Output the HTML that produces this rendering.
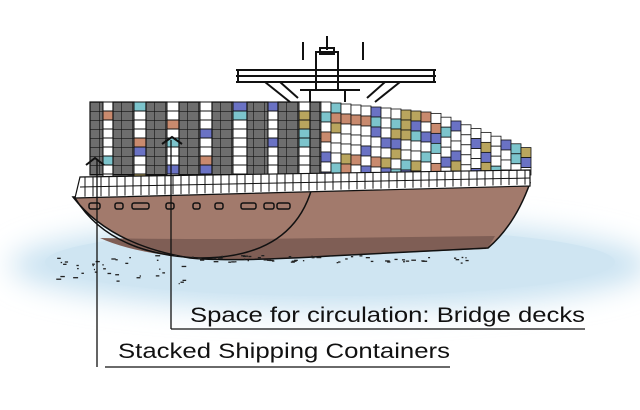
<!DOCTYPE html>
<html><head><meta charset="utf-8"><style>
html,body{margin:0;padding:0;background:#fff;width:640px;height:410px;overflow:hidden}
svg{display:block}
text{font-family:"Liberation Sans",sans-serif;fill:#111}
</style></head><body>
<svg id="s" width="640" height="410" viewBox="0 0 640 410" xmlns="http://www.w3.org/2000/svg">
<defs>
<filter id="b" x="-20%" y="-50%" width="140%" height="200%"><feGaussianBlur stdDeviation="14"/></filter>
<pattern id="g" x="0" y="102" width="11" height="9" patternUnits="userSpaceOnUse">
<rect width="11" height="9" fill="#6e6e6e"/><path d="M0 0H11M0 0V9" stroke="#111" stroke-width="1.2"/>
</pattern>
</defs>
<ellipse cx="330" cy="265" rx="320" ry="45" fill="#c9e2f1" filter="url(#b)"/>
<ellipse cx="330" cy="262" rx="285" ry="34" fill="#cfe5f2"/>
<!-- superstructure -->
<g stroke="#111" stroke-width="2" fill="none">
<path d="M327 36V50M303 42V60M363 42V60M316 52h22v38h-22zM320 48h14v6h-14z"/>
<path d="M236 70h200M236 76h200M236 82h200M238 70v12M434 70v12"/>
<path d="M265 82l25 20M280 82l18 16M400 82l-25 20M385 82l-18 16M310 90v12M345 90v12M300 90h60"/>
</g>
<!-- hull -->
<path d="M73 197 L530 183 Q515 225 488 248 L330 256 Q230 262 190 258 Q110 245 73 197Z" fill="#a27a6c"/>
<path d="M100 238 Q200 240 330 238 L495 236 Q490 245 486 249 L330 256 Q230 262 190 258 Q130 252 100 238Z" fill="#7f5e55"/>
<path d="M73 197 L530 183 Q515 225 488 248 L330 256 Q230 262 190 258 Q110 245 73 197Z" fill="none" stroke="#111" stroke-width="1.5"/>
<path d="M75 198 Q110 255 200 258 Q300 258 315 175" fill="none" stroke="#111" stroke-width="1.5"/>
<g fill="none" stroke="#111" stroke-width="1.5">
<rect x="89" y="203" width="11" height="6" rx="2"/><rect x="115" y="203" width="8" height="6" rx="2"/><rect x="132" y="203" width="17" height="6" rx="2"/><rect x="166" y="203" width="8" height="6" rx="2"/><rect x="193" y="203" width="7" height="6" rx="2"/><rect x="215" y="203" width="8" height="6" rx="2"/><rect x="241" y="203" width="15" height="6" rx="2"/><rect x="264" y="203" width="10" height="6" rx="2"/><rect x="277" y="203" width="13" height="6" rx="2"/>
</g>
<g id="cont"></g>
<!-- deck rail -->
<path d="M80 177 L530 170 L530 186 L75 198Z" fill="#fff" stroke="#111" stroke-width="1.2"/>
<g id="rail" stroke="#111" stroke-width="1"></g>
<!-- arrows -->
<path d="M86 165 L95 158 L104 165 M162 144 L172 137 L182 144" fill="none" stroke="#111" stroke-width="2"/>
<!-- dots -->
<g id="dots" fill="#222"></g>
<!-- leaders -->
<path d="M97 160V367M171 140V329M171 329H585M105 367H450" stroke="#111" stroke-width="1.3" fill="none"/>
<text x="190" y="322" font-size="21" textLength="395" lengthAdjust="spacingAndGlyphs">Space for circulation: Bridge decks</text>
<text x="118" y="358" font-size="21" textLength="332" lengthAdjust="spacingAndGlyphs">Stacked Shipping Containers</text>
</svg>
<script>
var NS="http://www.w3.org/2000/svg",c=document.getElementById("cont");
function el(t,a,p){var e=document.createElementNS(NS,t);for(var k in a)e.setAttribute(k,a[k]);(p||c).appendChild(e);return e;}
var seed=7;function r(){seed=(seed*9301+49297)%233280;return seed/233280;}
var cols=["#fff","#fff","#fff","#c98a6e","#6a72c4","#7cc4cc","#b9a55e"];
var greys=[[90,13],[113,21],[146,21],[179,21],[212,21],[247,21],[278,21],[310,11]];
var prev=103;
greys.forEach(function(g,i){
 if(i>0){var x=prev,w=g[0]-prev;for(var y=102;y<175;y+=9){var f=r()<0.55?"#fff":cols[3+Math.floor(r()*4)];el("rect",{x:x,y:y,width:w,height:9,fill:f,stroke:"#111","stroke-width":1});}}
 el("rect",{x:g[0],y:102,width:g[1],height:73,fill:"url(#g)",stroke:"#111","stroke-width":1.2});
 prev=g[0]+g[1];
});
for(var x=321;x<528;x+=10){
 var t=x<430?102+(x-321)*0.1:113+(x-430)*0.38;
 for(var y=t;y<175;y+=10){var f=r()<0.45?"#fff":cols[3+Math.floor(r()*4)];el("rect",{x:x,y:y,width:10,height:Math.min(10,175-y),fill:f,stroke:"#111","stroke-width":0.8});}
}
var rl=document.getElementById("rail");
for(var x=85;x<528;x+=8){var y1=177-(x-80)*0.0156,y2=197-(x-75)*0.0275;el("line",{x1:x,y1:y1,x2:x,y2:y2},rl);}
el("line",{x1:80,y1:187,x2:530,y2:178},rl);
var d=document.getElementById("dots");
for(var i=0;i<90;i++){var x=55+r()*420,y=255+r()*28;if(x>200)y=255+r()*8;el("rect",{x:x,y:y,width:1+r()*4,height:1.3},d);}
</script>
</body></html>
